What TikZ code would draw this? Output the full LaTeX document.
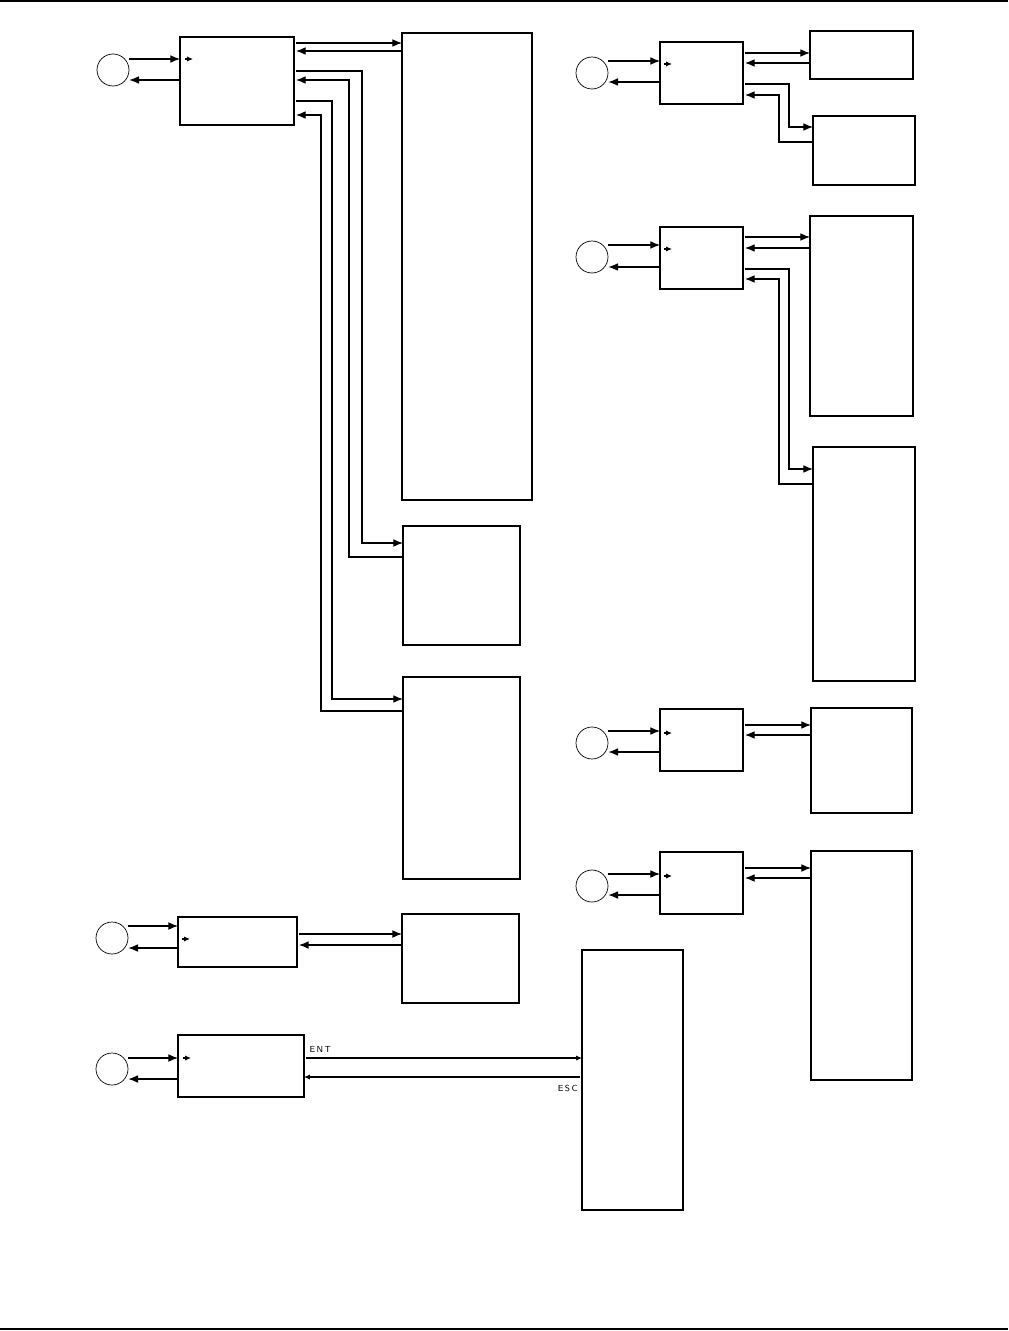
\documentclass[tikz,border=0pt]{standalone}
\usepackage{tikz}
\usetikzlibrary{arrows.meta, fit}

\begin{document}
\begin{tikzpicture}[x=0.02cm, y=-0.02cm, line width=0.6pt,
    >={Latex[length=5.5pt, width=4.4pt]},
    box/.style={draw, rectangle, inner sep=0pt, outer sep=0pt},
    key/.style={draw, circle, minimum size=32*0.02cm, inner sep=0pt, line width=0.4pt},
    small/.style={-{Latex[length=3.3pt, width=2.9pt]}},
    lbl/.style={font=\sffamily\fontsize{5}{6}\selectfont, inner sep=0pt}]
    \useasboundingbox (0,0) rectangle (1008,1331);
    % page rules
    \draw (0,1) -- (1008,1);
    \draw[line width=1.4pt] (0,1329) -- (1008,1329);

    % group A
    \node[key] (cA) at (113,70) {};
    \node[box, fit={(180,37) (294,125)}] (boxA) {};
    \node[box, fit={(402,33) (532,500)}] (boxAa) {};
    \node[box, fit={(403,526) (520,645)}] (boxAb) {};
    \node[box, fit={(403,677) (520,879)}] (boxAc) {};
    \draw[->] (cA.east |- 0,59) -- (boxA.west |- 0,59);
    \draw[->] (boxA.west |- 0,80) -- (cA.east |- 0,80);
    \draw[small] (boxA.west |- 0,59) ++(5,0) -- ++(8,0);
    \draw[->] (boxA.east |- 0,43) ++(2,0) -- (boxAa.west |- 0,43);
    \draw[<-] (boxA.east |- 0,51) ++(2,0) -- (boxAa.west |- 0,51);
    \draw[->] (boxA.east |- 0,71) ++(2,0) -| (362,543) -- (boxAb.west |- 0,543);
    \draw[<-] (boxA.east |- 0,80) ++(2,0) -| (349,557) -- (boxAb.west |- 0,557);
    \draw[->] (boxA.east |- 0,101) ++(2,0) -| (332,699) -- (boxAc.west |- 0,699);
    \draw[<-] (boxA.east |- 0,115) ++(2,0) -| (321,711) -- (boxAc.west |- 0,711);

    % group B
    \node[key] (cB) at (592,73) {};
    \node[box, fit={(660,42) (743,104)}] (boxB) {};
    \node[box, fit={(810,31) (913,79)}] (boxBa) {};
    \node[box, fit={(813,116) (915,185)}] (boxBb) {};
    \draw[->] (cB.east |- 0,61) -- (boxB.west |- 0,61);
    \draw[->] (boxB.west |- 0,82) -- (cB.east |- 0,82);
    \draw[small] (boxB.west |- 0,64) ++(4,0) -- ++(8,0);
    \draw[->] (boxB.east |- 0,53) ++(2,0) -- (boxBa.west |- 0,53);
    \draw[<-] (boxB.east |- 0,63) ++(2,0) -- (boxBa.west |- 0,63);
    \draw[->] (boxB.east |- 0,84) ++(2,0) -| (789,127) -- (boxBb.west |- 0,127);
    \draw[<-] (boxB.east |- 0,95) ++(2,0) -| (779,142) -- (boxBb.west |- 0,142);

    % group C
    \node[key] (cC) at (592,257) {};
    \node[box, fit={(660,227) (743,289)}] (boxC) {};
    \node[box, fit={(810,216) (913,416)}] (boxCa) {};
    \node[box, fit={(813,447) (915,681)}] (boxCb) {};
    \draw[->] (cC.east |- 0,245) -- (boxC.west |- 0,245);
    \draw[->] (boxC.west |- 0,267) -- (cC.east |- 0,267);
    \draw[small] (boxC.west |- 0,249) ++(4,0) -- ++(8,0);
    \draw[->] (boxC.east |- 0,237) ++(2,0) -- (boxCa.west |- 0,237);
    \draw[<-] (boxC.east |- 0,248) ++(2,0) -- (boxCa.west |- 0,248);
    \draw[->] (boxC.east |- 0,269) ++(2,0) -| (789,469) -- (boxCb.west |- 0,469);
    \draw[<-] (boxC.east |- 0,279) ++(2,0) -| (779,484) -- (boxCb.west |- 0,484);

    % group D
    \node[key] (cD) at (592,743) {};
    \node[box, fit={(660,709) (743,771)}] (boxD) {};
    \node[box, fit={(811,708) (912,813)}] (boxDa) {};
    \draw[->] (cD.east |- 0,731) -- (boxD.west |- 0,731);
    \draw[->] (boxD.west |- 0,752) -- (cD.east |- 0,752);
    \draw[small] (boxD.west |- 0,733) ++(4,0) -- ++(8,0);
    \draw[->] (boxD.east |- 0,725) ++(2,0) -- (boxDa.west |- 0,725);
    \draw[<-] (boxD.east |- 0,735) ++(2,0) -- (boxDa.west |- 0,735);

    % group E
    \node[key] (cE) at (592,886) {};
    \node[box, fit={(660,852) (743,914)}] (boxE) {};
    \node[box, fit={(811,851) (912,1080)}] (boxEa) {};
    \draw[->] (cE.east |- 0,874) -- (boxE.west |- 0,874);
    \draw[->] (boxE.west |- 0,895) -- (cE.east |- 0,895);
    \draw[small] (boxE.west |- 0,876) ++(4,0) -- ++(8,0);
    \draw[->] (boxE.east |- 0,868) ++(2,0) -- (boxEa.west |- 0,868);
    \draw[<-] (boxE.east |- 0,878) ++(2,0) -- (boxEa.west |- 0,878);

    % group F
    \node[key] (cF) at (112,938) {};
    \node[box, fit={(178,917) (297,967)}] (boxF) {};
    \node[box, fit={(402,914) (519,1003)}] (boxFa) {};
    \draw[->] (cF.east |- 0,926) -- (boxF.west |- 0,926);
    \draw[->] (boxF.west |- 0,948) -- (cF.east |- 0,948);
    \draw[small] (boxF.west |- 0,939) ++(4,0) -- ++(8,0);
    \draw[->] (boxF.east |- 0,934) ++(2,0) -- (boxFa.west |- 0,934);
    \draw[<-] (boxF.east |- 0,945) ++(2,0) -- (boxFa.west |- 0,945);

    % group G
    \node[key] (cG) at (112,1069) {};
    \node[box, fit={(178,1035) (304,1097)}] (boxG) {};
    \node[box, fit={(582,950) (683,1210)}] (boxGa) {};
    \draw[->] (cG.east |- 0,1058) -- (boxG.west |- 0,1058);
    \draw[->] (boxG.west |- 0,1079) -- (cG.east |- 0,1079);
    \draw[small] (boxG.west |- 0,1058) ++(5,0) -- ++(8,0);
    \draw[small] (boxG.east |- 0,1058) ++(2,0) -- (boxGa.west |- 0,1058);
    \draw[small] (boxGa.west |- 0,1077) ++(-2,0) -- (boxG.east |- 0,1077);
    \node[lbl, anchor=base west] (ent) at (309,1052) {E\kern.8pt N\kern.8pt T};
    \node[lbl, anchor=base east] (esc) at (578,1091) {E\kern.8pt S\kern.8pt C};
\end{tikzpicture}
\end{document}
